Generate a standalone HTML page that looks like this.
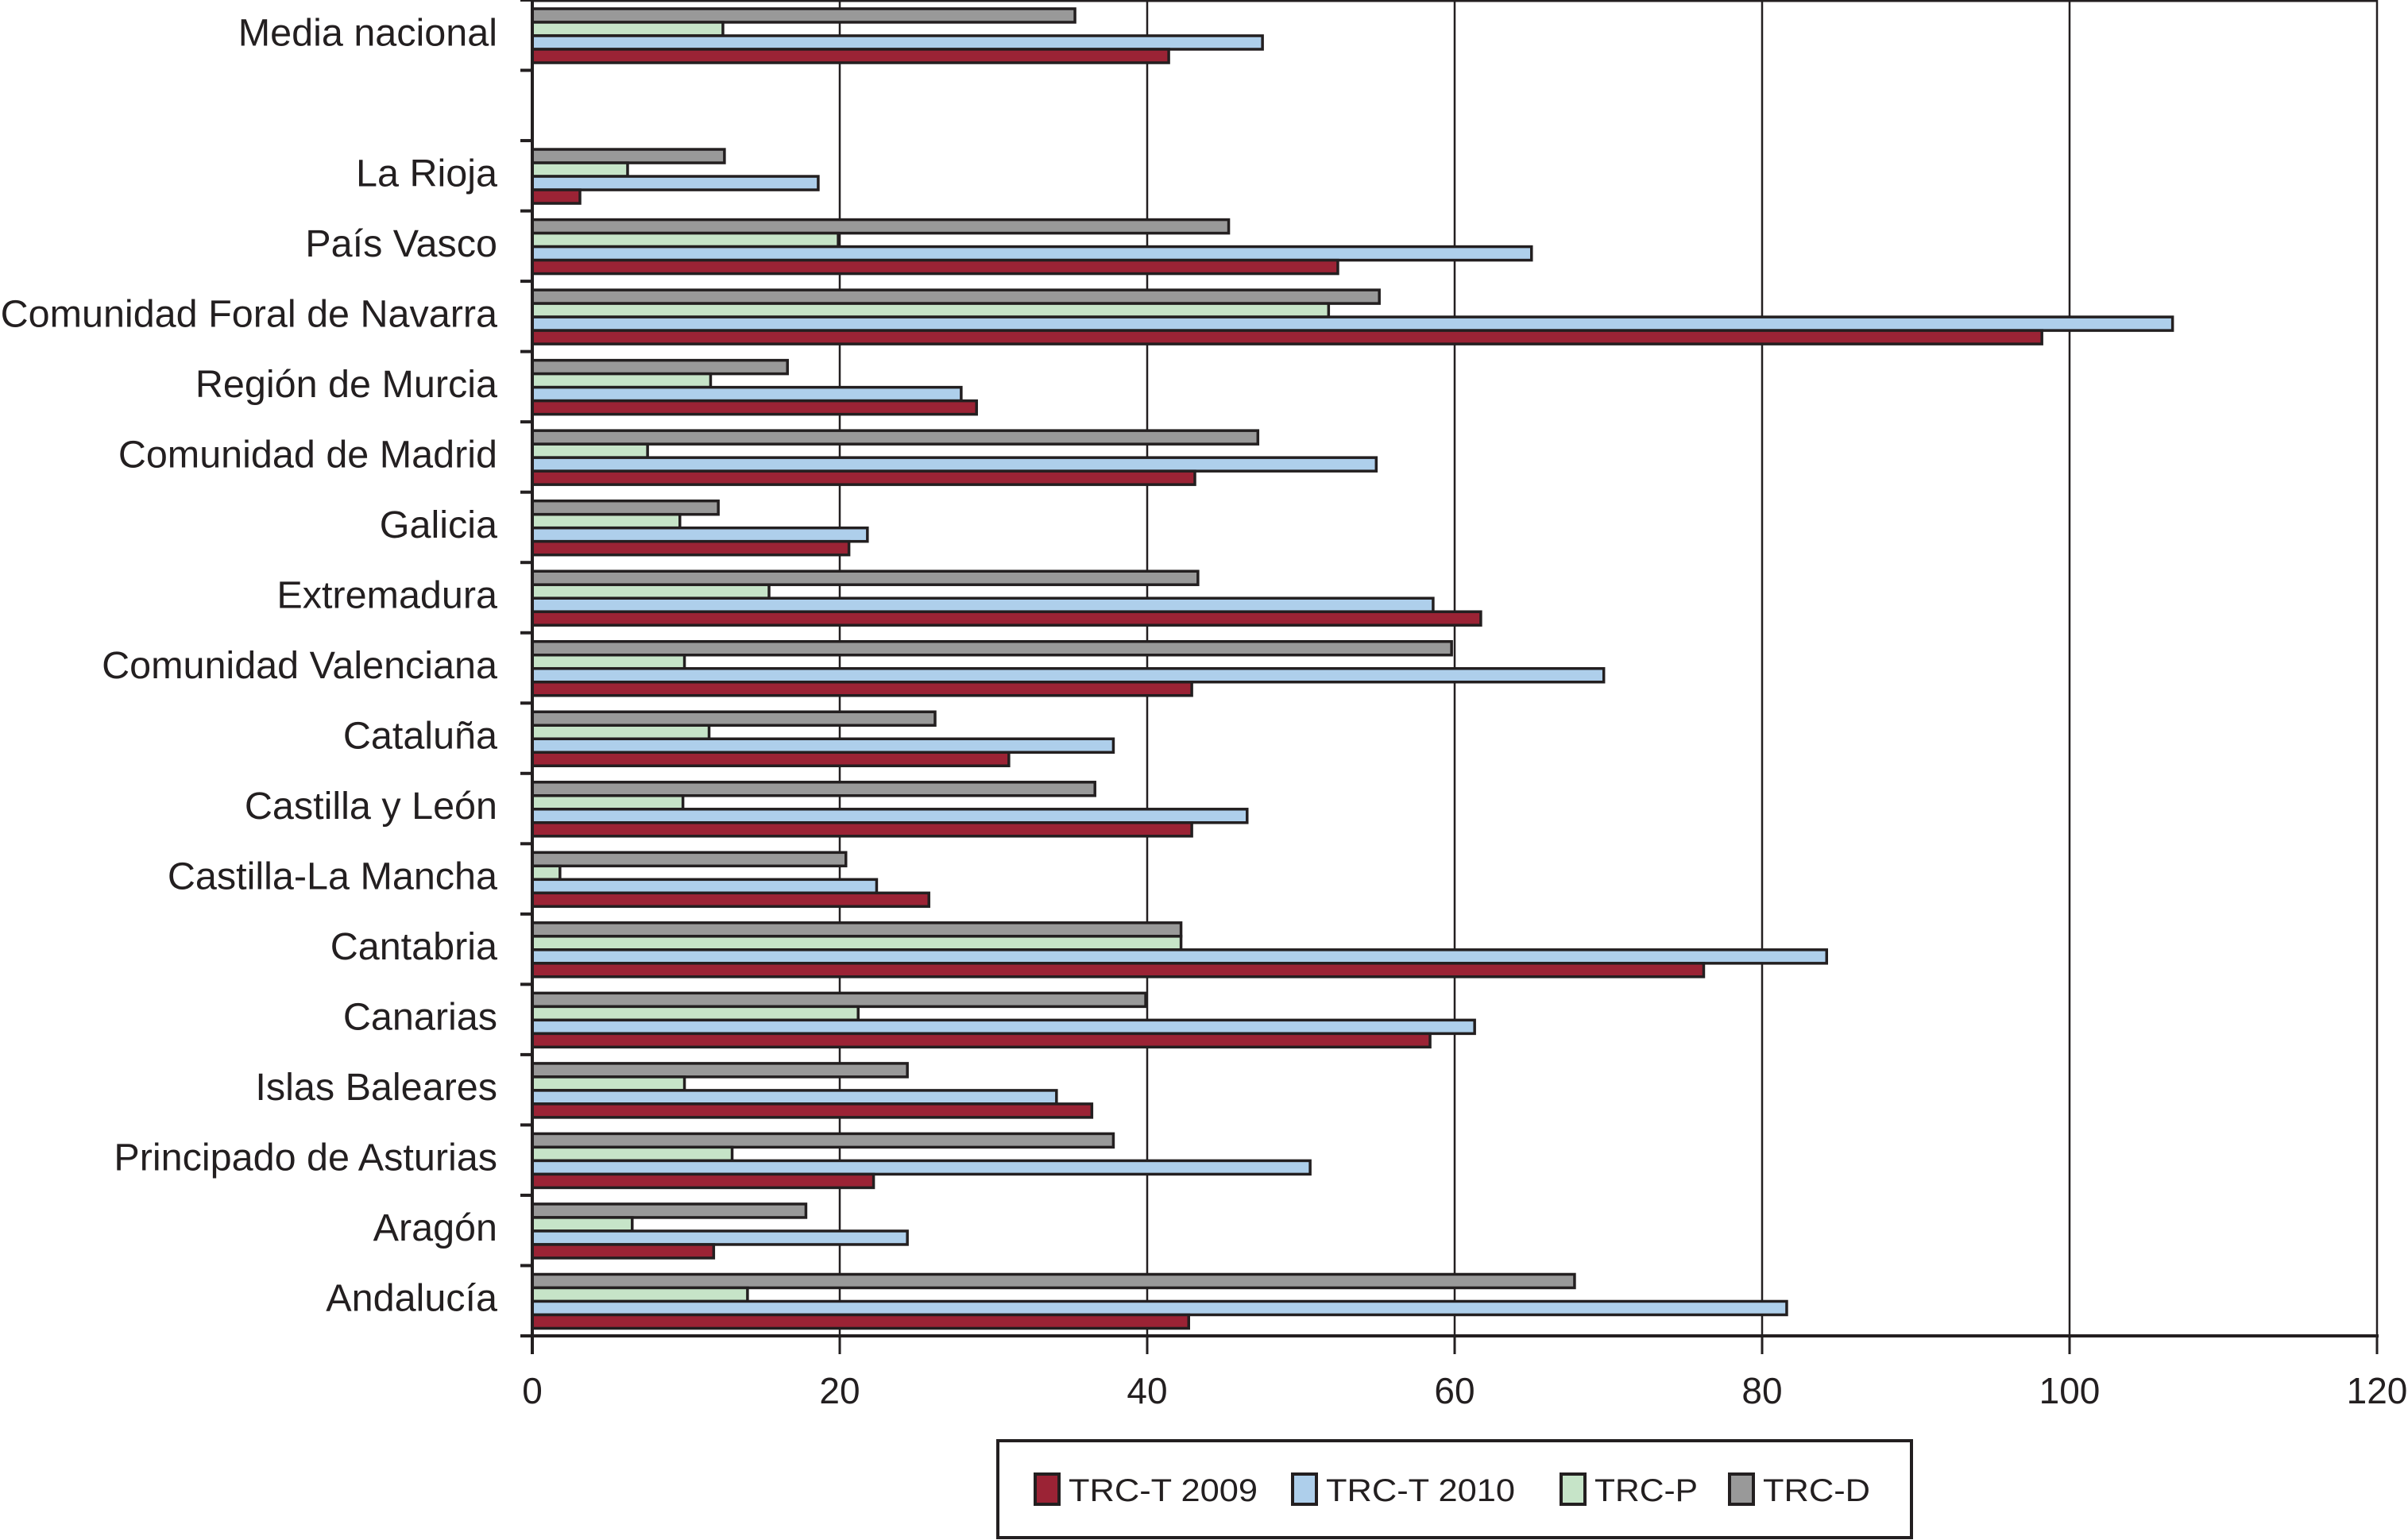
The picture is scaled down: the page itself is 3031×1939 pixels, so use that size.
<!DOCTYPE html>
<html><head><meta charset="utf-8"><style>
html,body{margin:0;padding:0;background:#fff;}
svg{display:block;font-family:"Liberation Sans",Arial,sans-serif;}
</style></head><body>
<svg id="chart" width="3031" height="1939" viewBox="0 0 3031 1939" xmlns="http://www.w3.org/2000/svg"></svg>
<script>
const categories = ["Media nacional","","La Rioja","País Vasco","Comunidad Foral de Navarra","Región de Murcia","Comunidad de Madrid","Galicia","Extremadura","Comunidad Valenciana","Cataluña","Castilla y León","Castilla-La Mancha","Cantabria","Canarias","Islas Baleares","Principado de Asturias","Aragón","Andalucía"];
const trcD   = [35.3,null,12.5,45.3,55.1,16.6,47.2,12.1,43.3,59.8,26.2,36.6,20.4,42.2,39.9,24.4,37.8,17.8,67.8];
const trcP   = [12.4,null,6.2,19.9,51.8,11.6,7.5,9.6,15.4,9.9,11.5,9.8,1.8,42.2,21.2,9.9,13.0,6.5,14.0];
const trcT10 = [47.5,null,18.6,65.0,106.7,27.9,54.9,21.8,58.6,69.7,37.8,46.5,22.4,84.2,61.3,34.1,50.6,24.4,81.6];
const trcT09 = [41.4,null,3.1,52.4,98.2,28.9,43.1,20.6,61.7,42.9,31.0,42.9,25.8,76.2,58.4,36.4,22.2,11.8,42.7];
const xTicks = [0,20,40,60,80,100,120];
const seriesNames = ["TRC-T 2009","TRC-T 2010","TRC-P","TRC-D"];

const NS="http://www.w3.org/2000/svg";
const svg=document.getElementById('chart');
const X0=670,X1=2992,Y0=0,Y1=1682,XMAX=120;
const slot=(Y1-Y0)/categories.length;
const xs=v=>X0+(v/XMAX)*(X1-X0);
const ys=i=>Y0+i*slot;
function el(tag,attrs){const e=document.createElementNS(NS,tag);for(const k in attrs)e.setAttribute(k,attrs[k]);svg.appendChild(e);return e;}
const ink="#231f20";
const colors={d:"#999999",p:"#c6e4c8",t10:"#aecfeb",t09:"#9b2335"};

xTicks.forEach((t,i)=>{
  if(t===0)return;
  const g=el('line',{x1:xs(t),x2:xs(t),y1:Y0,y2:Y1,stroke:ink,'stroke-width':2.5});
  
  
});
const tb=el('line',{x1:X0,x2:X1,y1:1,y2:1,stroke:ink,'stroke-width':3});



const order=[["d",trcD],["p",trcP],["t10",trcT10],["t09",trcT09]];
const bh=17,off=11;
categories.forEach((c,i)=>{
  order.forEach(([k,arr],j)=>{
    const v=arr[i]; if(v==null)return;
    const r=el('rect',{x:X0,y:ys(i)+off+j*bh,width:xs(v)-X0,height:bh,fill:colors[k],stroke:ink,'stroke-width':3.5});
    
    
  });
  if(c){
    const t=el('text',{x:626,y:ys(i)+slot/2+13,'text-anchor':'end','font-size':48.5,fill:ink});
    t.textContent=c;
    
    
  }
});
for(let i=0;i<=categories.length;i++){
  const t=el('line',{x1:655,x2:X0,y1:ys(i),y2:ys(i),stroke:ink,'stroke-width':4});
  
  
}
const ya=el('line',{x1:X0,x2:X0,y1:0,y2:1705,stroke:ink,'stroke-width':4});


const xa=el('line',{x1:655,x2:X1+2,y1:Y1,y2:Y1,stroke:ink,'stroke-width':4});


xTicks.forEach(t=>{
  const l=el('line',{x1:xs(t),x2:xs(t),y1:Y1,y2:1705,stroke:ink,'stroke-width':3});
  
  
  const tx=el('text',{x:xs(t),y:1767,'text-anchor':'middle','font-size':46,fill:ink});
  tx.textContent=t;
  
  
});
const lb=el('rect',{x:1256,y:1814,width:1150,height:122,fill:'#fff',stroke:ink,'stroke-width':4});


const legSw=[1303,1627,1965,2177];
const legCol=[colors.t09,colors.t10,colors.p,colors.d];
seriesNames.forEach((n,i)=>{
  const s=el('rect',{x:legSw[i],y:1856,width:30,height:38,fill:legCol[i],stroke:ink,'stroke-width':4});
  
  
  const t=el('text',{x:legSw[i]+42,y:1890,'font-size':40,fill:ink,textLength:[238,238,130,135][i],lengthAdjust:'spacingAndGlyphs'});
  t.textContent=n;
  
  
});
</script>
</body></html>
